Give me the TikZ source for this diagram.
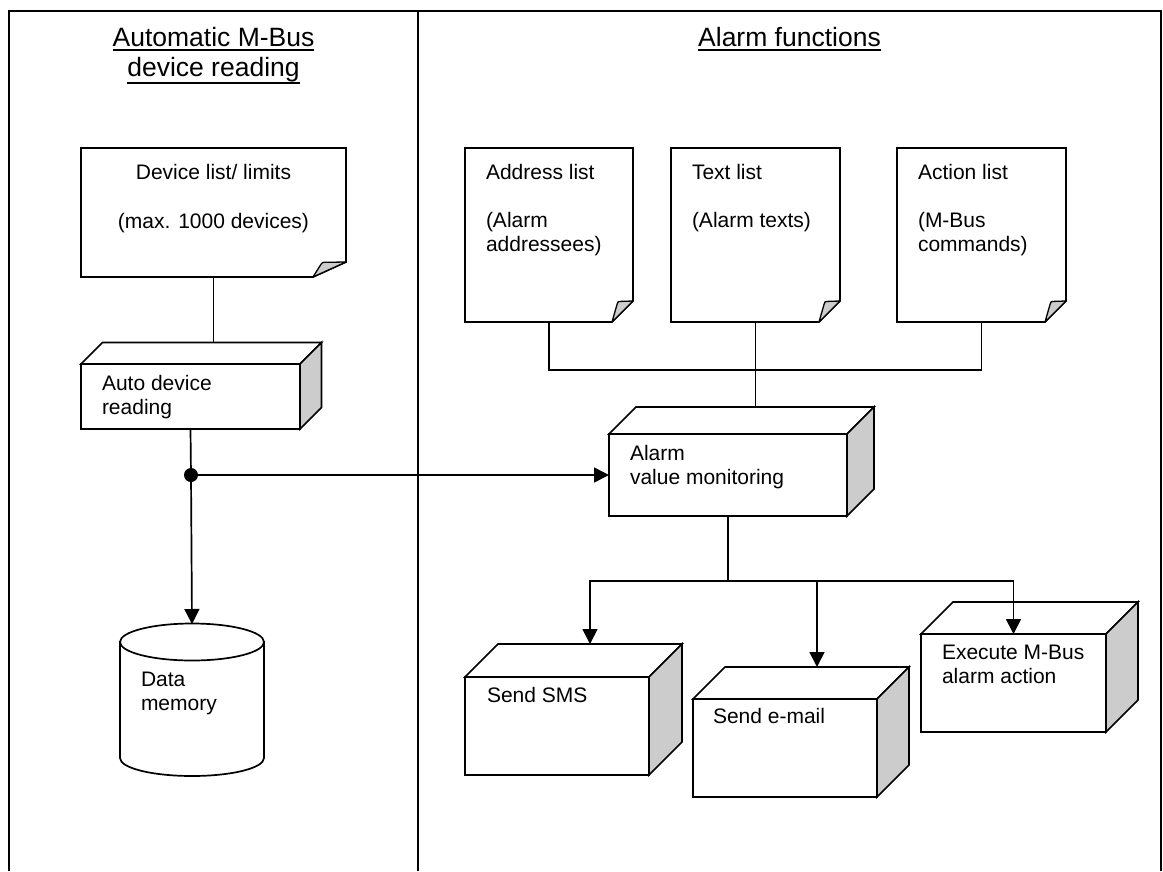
\documentclass[tikz,border=0pt]{standalone}
\usepackage{fontspec}
\setmainfont{Liberation Sans}
\usetikzlibrary{arrows.meta,calc}
\definecolor{sidegray}{RGB}{204,204,204}
\tikzset{
  shp/.style={line width=1.7pt, line join=miter},
  conn/.style={line width=1.7pt},
  arr/.style={conn, -{Triangle[length=15pt,width=15pt]}},
  lbl/.style={inner sep=0pt, outer sep=0pt, font=\fontsize{21}{24}\selectfont},
  ttl/.style={inner sep=0pt, outer sep=0pt, font=\fontsize{26.5}{30}\selectfont},
  framel/.style={line width=1.8pt},
}
\newcommand{\ulbar}[2]{\leavevmode\setbox0=\hbox{#2}\rlap{\rule[-#1pt]{\wd0}{1.8pt}}\box0}
% cube: name, left, top, right, bottom, depth
\newcommand{\cubebox}[6]{%
  \node[shp, draw, fill=white, inner sep=0pt, outer sep=0pt, minimum width={#4-#2}, minimum height={#5-#3}, anchor=north west] (#1) at (#2,#3) {};
  \filldraw[shp, fill=white] (#1.north west) -- ++(#6,-#6) -- ++({#4-#2},0) -- (#1.north east) -- cycle;
  \filldraw[shp, fill=sidegray] (#1.north east) -- ++(#6,-#6) -- ++(0,{#5-#3}) -- (#1.south east) -- cycle;
  \coordinate (#1-top) at ($(#1.north)+(#6,-#6)$);
}
% document: name, left, top, right, bottom, fold x, fold y
\newcommand{\docbox}[7]{%
  \node[inner sep=0pt, outer sep=0pt, minimum width={#4-#2}, minimum height={#5-#3}, anchor=north west] (#1) at (#2,#3) {};
  \draw[shp, fill=white] (#2,#3) -- (#4,#3) -- (#4,{#5-#7}) -- ({#4-#6},#5) -- (#2,#5) -- cycle;
  \filldraw[line width=1.3pt, line join=round, fill=sidegray] ({#4-#6},#5) -- ({#4-0.76*#6},{#5-0.84*#7}) .. controls ({#4-0.72*#6},{#5-0.98*#7}) .. ({#4-0.6*#6},{#5-0.98*#7}) -- (#4,{#5-#7}) -- cycle;
}
\begin{document}
\begin{tikzpicture}[x=1pt,y=-1pt]
\useasboundingbox (0,0) rectangle (1163,871);

% frame
\draw[framel] (9,871) -- (9,11) -- (1161,11) -- (1161,871);
\draw[framel] (418,11) -- (418,871);

% titles
\node[ttl, anchor=base] (t1a) at (213.5,46) {\ulbar{5}{Automatic M-Bus}};
\node[ttl, anchor=base] (t1b) at (213.5,76) {\ulbar{7.5}{device reading}};
\node[ttl, anchor=base] (t2) at (789.5,46) {\ulbar{5}{Alarm functions}};

% documents
\docbox{devlist}{81}{148}{346}{277}{33}{15}
\docbox{addr}{465}{148}{633}{322}{21}{21}
\docbox{textl}{671}{148}{840}{322}{21}{21}
\docbox{action}{897}{148}{1066}{322}{21}{21}

\node[lbl, anchor=base] (devA) at (213.5,179) {Device list/ limits};
\node[lbl, anchor=base] (devB) at (213.5,228) {(max. 1000 devices)};
\node[lbl, anchor=base west] (addrA) at (486,179) {Address list};
\node[lbl, anchor=base west] (addrB) at (486,227) {(Alarm};
\node[lbl, anchor=base west] (addrC) at (486,251) {addressees)};
\node[lbl, anchor=base west] (textA) at (692,179) {Text list};
\node[lbl, anchor=base west] (textB) at (692,227) {(Alarm texts)};
\node[lbl, anchor=base west] (actA) at (918,179) {Action list};
\node[lbl, anchor=base west] (actB) at (918,227) {(M-Bus};
\node[lbl, anchor=base west] (actC) at (918,251) {commands)};

% 3D boxes
\cubebox{auto}{81}{364}{300}{429}{21.5}
\cubebox{alarm}{609}{434}{847}{516}{27}
\cubebox{sms}{465}{677}{649}{775}{33}
\cubebox{email}{693}{699}{877}{797}{32}
\cubebox{exec}{921}{634}{1106}{732}{32}

\node[lbl, anchor=base west] (autoA) at (102,390) {Auto device};
\node[lbl, anchor=base west] (autoB) at (102,414) {reading};
\node[lbl, anchor=base west] (alarmA) at (630,460) {Alarm};
\node[lbl, anchor=base west] (alarmB) at (630,484) {value monitoring};
\node[lbl, anchor=base west] (smsA) at (487,702) {Send SMS};
\node[lbl, anchor=base west] (emailA) at (713,723) {Send e-mail};
\node[lbl, anchor=base west] (execA) at (942,659) {Execute M-Bus};
\node[lbl, anchor=base west] (execB) at (942,683) {alarm action};

% cylinder
\node[inner sep=0pt, outer sep=0pt, minimum width=144, minimum height=152, anchor=north west] (cyl) at (120,624) {};
\draw[shp, fill=white] (120,642) -- (120,758) .. controls (120,768) and (152,776) .. (192,776) .. controls (232,776) and (264,768) .. (264,758) -- (264,642) -- cycle;
\draw[shp, fill=white] (192,642) ellipse [x radius=72, y radius=18.5];
\node[lbl, anchor=base west] (cylA) at (141,686) {Data};
\node[lbl, anchor=base west] (cylB) at (141,710) {memory};

% junction dot
\node[circle, fill=black, inner sep=0pt, minimum size=14pt] (dot) at (191,475) {};

% connectors
\draw[conn] (devlist.south) -- (devlist.south |- auto-top);
\draw[conn] (auto.south) -- (dot);
\draw[arr] (dot) -- (cyl.north);
\draw[arr] (dot) -- (alarm.west);

\path (textl.south) ++(0,48) coordinate (bus);
\draw[conn] (addr.south) |- (bus) -| (action.south);
\draw[conn] (textl.south) -- (textl.south |- alarm-top);

\path (alarm.south) ++(0,65) coordinate (split);
\draw[conn] (alarm.south) -- (split);
\draw[arr] (split) -| (sms-top);
\draw[arr] (split) -| (email-top);
\draw[arr] (split) -| (exec.north);
\end{tikzpicture}
\end{document}
